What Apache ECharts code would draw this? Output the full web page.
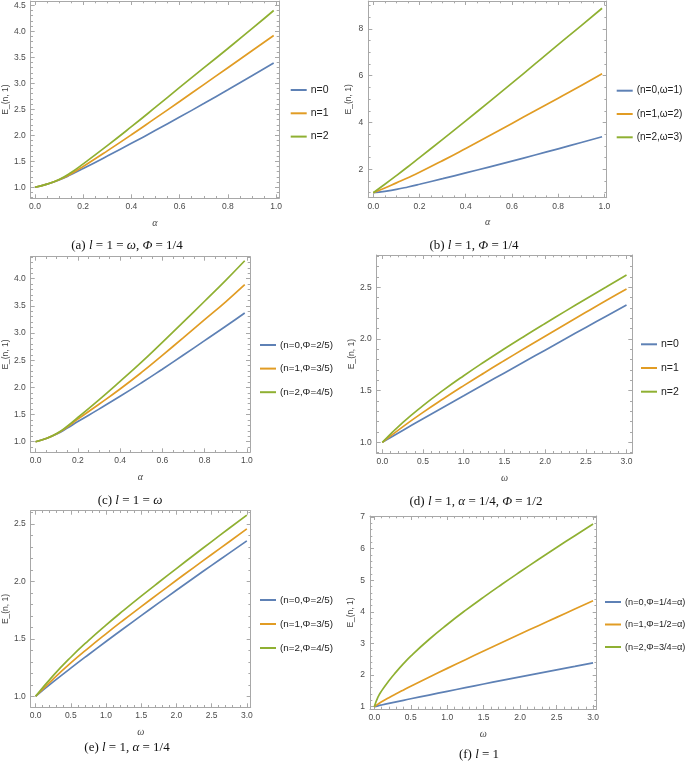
<!DOCTYPE html>
<html><head><meta charset="utf-8">
<script src="https://cdn.jsdelivr.net/npm/echarts@6/dist/echarts.min.js"></script>
<style>html,body{margin:0;padding:0;background:#fff}#c{width:685px;height:762px}</style>
</head><body><div id="c"></div>
<script>
// ---------------- data ----------------
const xAlpha = [0, 0.05, 0.1, 0.15, 0.2, 0.3, 0.4, 0.5, 0.6, 0.7, 0.8, 0.9, 0.99];
const aN0 = [1, 1.06, 1.14, 1.245, 1.36, 1.60, 1.845, 2.095, 2.35, 2.61, 2.875, 3.145, 3.39];
const aN1 = [1, 1.06, 1.145, 1.26, 1.40, 1.70, 2.01, 2.33, 2.65, 2.975, 3.30, 3.625, 3.92];
const aN2 = [1, 1.06, 1.15, 1.285, 1.45, 1.80, 2.165, 2.54, 2.92, 3.295, 3.67, 4.05, 4.40];
const bN0 = [1, 1.06, 1.14, 1.245, 1.36, 1.60, 1.845, 2.095, 2.35, 2.61, 2.875, 3.145, 3.39];
const bN1 = [1, 1.20, 1.42, 1.64, 1.87, 2.37, 2.89, 3.42, 3.96, 4.50, 5.04, 5.58, 6.08];
const bN2 = [1, 1.36, 1.73, 2.11, 2.50, 3.28, 4.07, 4.87, 5.68, 6.50, 7.33, 8.14, 8.88];
const cN0 = [1, 1.06, 1.14, 1.25, 1.37, 1.60, 1.835, 2.08, 2.335, 2.595, 2.86, 3.125, 3.37];
const cN1 = [1, 1.06, 1.145, 1.27, 1.415, 1.69, 1.97, 2.27, 2.59, 2.915, 3.245, 3.575, 3.89];
const cN2 = [1, 1.06, 1.15, 1.285, 1.445, 1.77, 2.11, 2.46, 2.83, 3.205, 3.585, 3.97, 4.33];

const xOmega = [0, 0.25, 0.5, 0.75, 1, 1.25, 1.5, 1.75, 2, 2.25, 2.5, 2.75, 3];
const dN0 = [1, 1.115, 1.228, 1.34, 1.451, 1.562, 1.672, 1.782, 1.892, 2.002, 2.112, 2.221, 2.33];
const dN1 = [1, 1.15, 1.29, 1.422, 1.549, 1.672, 1.792, 1.91, 2.027, 2.143, 2.258, 2.373, 2.484];
const dN2 = [1, 1.19, 1.355, 1.505, 1.645, 1.778, 1.906, 2.03, 2.151, 2.27, 2.387, 2.503, 2.62];
const eN0 = [1, 1.125, 1.245, 1.362, 1.477, 1.59, 1.702, 1.813, 1.923, 2.032, 2.14, 2.247, 2.353];
const eN1 = [1, 1.15, 1.29, 1.42, 1.544, 1.664, 1.781, 1.896, 2.01, 2.123, 2.235, 2.346, 2.458];
const eN2 = [1, 1.18, 1.34, 1.485, 1.62, 1.748, 1.872, 1.993, 2.112, 2.23, 2.347, 2.463, 2.578];

const xOmegaF = [0, 0.05, 0.1, 0.2, 0.3, 0.4, 0.5, 0.75, 1, 1.25, 1.5, 1.75, 2, 2.25, 2.5, 2.75, 3];
const fN0 = [1, 1.028, 1.054, 1.104, 1.153, 1.202, 1.25, 1.368, 1.486, 1.602, 1.717, 1.831, 1.943, 2.054, 2.164, 2.273, 2.385];
const fN1 = [1, 1.08, 1.153, 1.285, 1.41, 1.53, 1.647, 1.932, 2.212, 2.487, 2.759, 3.029, 3.297, 3.562, 3.824, 4.087, 4.347];
const fN2 = [1, 1.30, 1.50, 1.82, 2.10, 2.36, 2.60, 3.125, 3.60, 4.045, 4.465, 4.87, 5.265, 5.653, 6.033, 6.408, 6.775];

const namesA = ['n=0', 'n=1', 'n=2'];
const namesB = ['(n=0,ω=1)', '(n=1,ω=2)', '(n=2,ω=3)'];
const namesC = ['(n=0,Φ=2/5)', '(n=1,Φ=3/5)', '(n=2,Φ=4/5)'];
const namesD = ['n=0', 'n=1', 'n=2'];
const namesE = ['(n=0,Φ=2/5)', '(n=1,Φ=3/5)', '(n=2,Φ=4/5)'];
const namesF = ['(n=0,Φ=1/4=α)', '(n=1,Φ=1/2=α)', '(n=2,Φ=3/4=α)'];

const ticksAlpha = [0, 0.2, 0.4, 0.6, 0.8, 1.0];
const ticksOmega = [0, 0.5, 1.0, 1.5, 2.0, 2.5, 3.0];
const ticksYA = [1.0, 1.5, 2.0, 2.5, 3.0, 3.5, 4.0, 4.5];
const ticksYB = [2, 4, 6, 8];
const ticksYC = [1.0, 1.5, 2.0, 2.5, 3.0, 3.5, 4.0];
const ticksYD = [1.0, 1.5, 2.0, 2.5];
const ticksYE = [1.0, 1.5, 2.0, 2.5];
const ticksYF = [1, 2, 3, 4, 5, 6, 7];

const yAxisName = 'E_(n, 1)';
const captions = [
  '(a) {i|l} = 1 = {i|ω}, {i|Φ} = 1/4',
  '(b) {i|l} = 1, {i|Φ} = 1/4',
  '(c) {i|l} = 1 = {i|ω}',
  '(d) {i|l} = 1, {i|α} = 1/4, {i|Φ} = 1/2',
  '(e) {i|l} = 1, {i|α} = 1/4',
  '(f) {i|l} = 1'
];

// ---------------- layout / style ----------------
const COLORS = ['#5E81B5', '#E19C24', '#8FB032'];
const FRAME = '#a8a8a8';
const LABEL = '#4a4a4a';

const panels = [
  {grid:{left:26.7, top:1, width:252.3, height:197.3}, x:[-0.0176,1.012], y:[0.788,4.583],
   xt:ticksAlpha, xm:0.05, xd:1, yt:ticksYA, ym:0.1, yd:1, xName:'α', xs:xAlpha, ys:[aN0,aN1,aN2], names:namesA,
   lg:{left:290.7, top:83.5, gap:10.3, fs:10.5}, cap:{x:127, y:246}},
  {grid:{left:368.3, top:1, width:238.4, height:196.7}, x:[-0.0216,1.010], y:[0.786,9.19],
   xt:ticksAlpha, xm:0.05, xd:1, yt:ticksYB, ym:0.5, yd:0, xName:'α', xs:xAlpha, ys:[bN0,bN1,bN2], names:namesB,
   lg:{left:616.7, top:84.2, gap:10.3, fs:10}, cap:{x:474, y:246}},
  {grid:{left:23.3, top:256.7, width:226.7, height:195.6}, x:[-0.023,1.015], y:[0.805,4.405],
   xt:ticksAlpha, xm:0.05, xd:1, yt:ticksYC, ym:0.1, yd:1, xName:'α', xs:xAlpha, ys:[cN0,cN1,cN2], names:namesC,
   lg:{left:260, top:338.5, gap:10.6, fs:9.8}, cap:{x:130, y:501}},
  {grid:{left:376.7, top:255, width:255.6, height:198.3}, x:[-0.069,3.071], y:[0.894,2.813],
   xt:ticksOmega, xm:0.1, xd:1, yt:ticksYD, ym:0.1, yd:1, xName:'ω', xs:xOmega, ys:[dN0,dN1,dN2], names:namesD,
   lg:{left:641, top:337.8, gap:10.7, fs:10.5}, cap:{x:476, y:502}},
  {grid:{left:23.3, top:510.7, width:227.4, height:196.6}, x:[-0.069,3.055], y:[0.904,2.616],
   xt:ticksOmega, xm:0.1, xd:1, yt:ticksYE, ym:0.1, yd:1, xName:'ω', xs:xOmega, ys:[eN0,eN1,eN2], names:namesE,
   lg:{left:260, top:593.5, gap:11, fs:9.8}, cap:{x:127, y:748}},
  {grid:{left:370, top:516, width:226.7, height:193}, x:[-0.059,3.05], y:[0.927,7.03],
   xt:ticksOmega, xm:0.1, xd:1, yt:ticksYF, ym:0.2, yd:0, xName:'ω', xs:xOmegaF, ys:[fN0,fN1,fN2], names:namesF,
   lg:{left:605, top:595.5, gap:9.5, fs:9.2}, cap:{x:479, y:755}}
];

function minors(range, step) {
  const out = [];
  const k0 = Math.ceil(range[0] / step - 1e-9), k1 = Math.floor(range[1] / step + 1e-9);
  for (let k = k0; k <= k1; k++) out.push(Math.round(k * step * 1e6) / 1e6);
  return out;
}

const grids = [], xAxes = [], yAxes = [], series = [], legends = [], graphics = [];

function axis(gi, pos, range, ticks, major, labelled, dec, extra) {
  const a = {
    type: 'value', gridIndex: gi, position: pos, min: range[0], max: range[1],
    axisLine: {show: major, onZero: false, lineStyle: {color: FRAME, width: 1}},
    axisTick: {show: true, inside: true, length: major ? 4 : 2.3, customValues: ticks,
               lineStyle: {color: FRAME, width: 1}},
    axisLabel: {show: labelled, customValues: ticks, formatter: v => Number(v).toFixed(dec),
                color: LABEL, fontSize: 8.5, fontFamily: 'Liberation Sans',
                margin: (pos === 'left') ? 5 : 4},
    splitLine: {show: false}, minorTick: {show: false}
  };
  return Object.assign(a, extra || {});
}

panels.forEach((p, gi) => {
  grids.push(Object.assign({containLabel: false}, p.grid));
  const xmin = minors(p.x, p.xm), ymin = minors(p.y, p.ym);
  const xBase = xAxes.length, yBase = yAxes.length;
  xAxes.push(axis(gi, 'bottom', p.x, p.xt, true, true, p.xd, {
    name: p.xName, nameLocation: 'middle', nameGap: 20,
    nameTextStyle: {fontFamily: 'Liberation Serif', fontStyle: 'italic', fontSize: 10, color: '#444'}
  }));
  xAxes.push(axis(gi, 'bottom', p.x, xmin, false, false, 1));
  xAxes.push(axis(gi, 'top', p.x, p.xt, true, false, 1));
  xAxes.push(axis(gi, 'top', p.x, xmin, false, false, 1));
  yAxes.push(axis(gi, 'left', p.y, p.yt, true, true, p.yd, {
    name: yAxisName, nameLocation: 'middle', nameGap: 15,
    nameTextStyle: {fontFamily: 'Liberation Sans', fontSize: 8.5, color: '#444'}
  }));
  yAxes.push(axis(gi, 'left', p.y, ymin, false, false, 1));
  yAxes.push(axis(gi, 'right', p.y, p.yt, true, false, 1));
  yAxes.push(axis(gi, 'right', p.y, ymin, false, false, 1));
  p.ys.forEach((vals, si) => {
    series.push({
      type: 'line', name: p.names[si], xAxisIndex: xBase, yAxisIndex: yBase,
      data: p.xs.map((x, i) => [x, vals[i]]),
      showSymbol: false, symbol: 'none', smooth: true,
      lineStyle: {color: COLORS[si], width: 1.7}, itemStyle: {color: COLORS[si]},
      z: 3 + si, silent: true
    });
  });
  legends.push({
    data: p.names.slice(), orient: 'vertical', left: p.lg.left, top: p.lg.top,
    itemGap: p.lg.gap, itemWidth: 16, itemHeight: 2, icon: 'rect', padding: 0,
    selectedMode: false,
    textStyle: {fontFamily: 'Liberation Sans', fontSize: p.lg.fs, color: '#222', lineHeight: 13, padding: [0, 0, 0, -1]}
  });
  graphics.push({
    type: 'text', x: p.cap.x, y: p.cap.y,
    style: {
      text: captions[gi], align: 'center', verticalAlign: 'middle',
      font: '13px "Liberation Serif"', fill: '#111',
      rich: {i: {fontStyle: 'italic', fontFamily: 'Liberation Serif', fontSize: 13, fill: '#111'}}
    }
  });
});

const chart = echarts.init(document.getElementById('c'), null, {renderer: 'canvas'});
chart.setOption({
  animation: false, backgroundColor: '#fff',
  grid: grids, xAxis: xAxes, yAxis: yAxes, series: series, legend: legends,
  graphic: graphics
});
</script></body></html>
